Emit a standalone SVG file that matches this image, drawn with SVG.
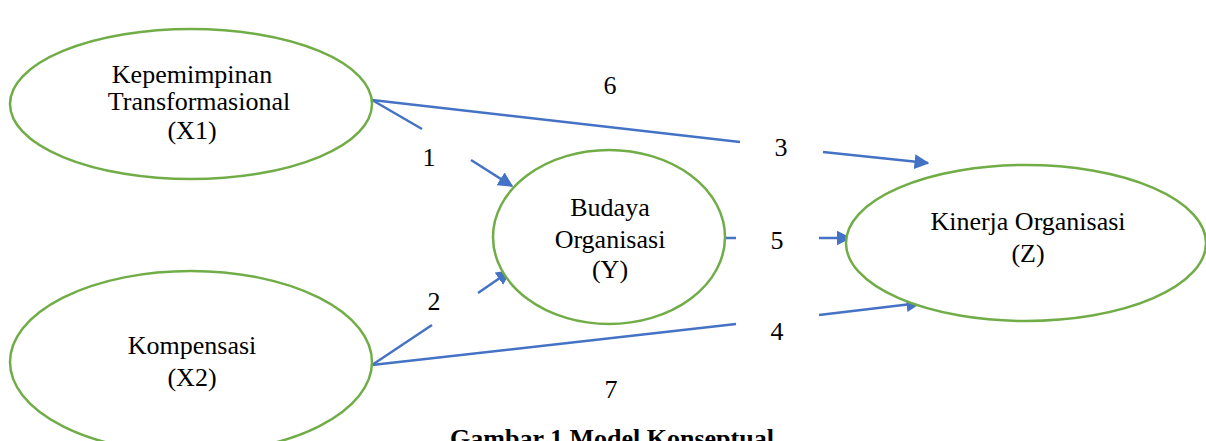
<svg xmlns="http://www.w3.org/2000/svg" width="1206" height="441" viewBox="0 0 1206 441">
<defs>
<style>
.node{fill:#fff;stroke:#70AD47;stroke-width:2.5}
.t{font-family:"Liberation Serif","Times New Roman",serif;font-size:26px;fill:#000;text-anchor:middle}
.c{stroke:#4472C4;stroke-width:2.5;fill:none}
.cap{font-family:"Liberation Serif","Times New Roman",serif;font-size:26px;font-weight:bold;text-anchor:middle}
</style>
<marker id="ah" viewBox="0 0 10 10" refX="9" refY="5" markerWidth="6" markerHeight="6" markerUnits="strokeWidth" orient="auto">
<path d="M0,0 L10,5 L0,10 z" fill="#4472C4"/>
</marker>
</defs>
<rect width="1206" height="441" fill="#fff"/>
<g id="connectors">
<line class="c" x1="372" y1="100" x2="740" y2="142"/>
<line class="c" x1="823" y1="152" x2="928" y2="163" marker-end="url(#ah)"/>
<line class="c" x1="372" y1="100" x2="422" y2="129"/>
<line class="c" x1="471" y1="160" x2="512" y2="186" marker-end="url(#ah)"/>
<line class="c" x1="372" y1="365" x2="432" y2="325"/>
<line class="c" x1="478" y1="293" x2="510" y2="271" marker-end="url(#ah)"/>
<line class="c" x1="372" y1="365" x2="736" y2="324"/>
<line class="c" x1="819" y1="315" x2="920" y2="303" marker-end="url(#ah)"/>
<line class="c" x1="725" y1="238" x2="736" y2="238"/>
<line class="c" x1="819" y1="238" x2="850" y2="238" marker-end="url(#ah)"/>
</g>
<g id="labels">
<text class="t" x="610" y="94">6</text>
<text class="t" x="781" y="156">3</text>
<text class="t" x="429" y="166">1</text>
<text class="t" x="434" y="310">2</text>
<text class="t" x="777" y="249">5</text>
<text class="t" x="777" y="340">4</text>
<text class="t" x="611" y="398">7</text>
</g>
<g id="X1">
<ellipse class="node" cx="191" cy="104" rx="181" ry="75"/>
<text class="t" x="192" y="83">Kepemimpinan</text>
<text class="t" x="199" y="110">Transformasional</text>
<text class="t" x="192" y="139">(X1)</text>
</g>
<g id="X2">
<ellipse class="node" cx="191" cy="362" rx="181" ry="91"/>
<text class="t" x="192" y="354">Kompensasi</text>
<text class="t" x="192" y="386">(X2)</text>
</g>
<g id="Y">
<ellipse class="node" cx="609" cy="237" rx="116" ry="87"/>
<text class="t" x="610" y="216">Budaya</text>
<text class="t" x="610" y="248">Organisasi</text>
<text class="t" x="610" y="278">(Y)</text>
</g>
<g id="Z">
<ellipse class="node" cx="1026" cy="243" rx="180" ry="78"/>
<text class="t" x="1028" y="230">Kinerja Organisasi</text>
<text class="t" x="1028" y="262">(Z)</text>
</g>
<text class="cap" x="612" y="447">Gambar 1 Model Konseptual</text>
</svg>
